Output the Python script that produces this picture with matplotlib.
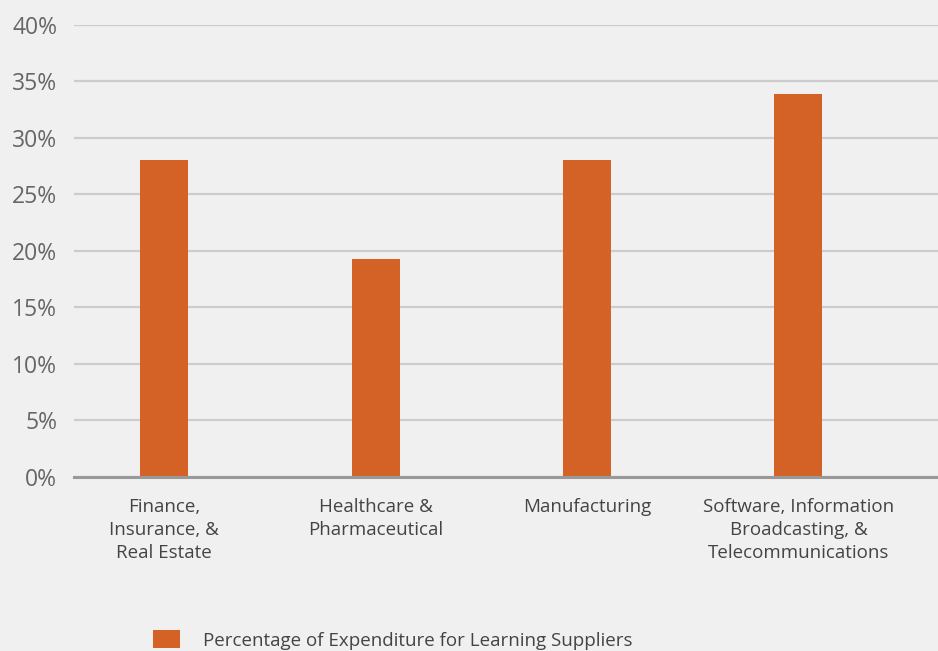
import numpy as np
import matplotlib.pyplot as plt

categories = ["Finance,\nInsurance, &\nReal Estate",
              "Healthcare &\nPharmaceutical",
              "Manufacturing",
              "Software, Information\nBroadcasting, &\nTelecommunications"]
values = [28.0, 19.3, 28.0, 33.9]
series_name = "Percentage of Expenditure for Learning Suppliers"
y_ticks = [0, 5, 10, 15, 20, 25, 30, 35, 40]

plt.rcParams['font.family'] = ['Open Sans', 'DejaVu Sans']

bg = "#f0f0f0"
bar_color = "#d46226"

fig = plt.figure(figsize=(9.38, 6.51), dpi=100, facecolor=bg)
ax = fig.add_axes([74 / 938, 174 / 651, 1 - 74 / 938, (477 - 24.5) / 651])
ax.set_facecolor(bg)

x = np.arange(len(categories))
ax.bar(x, values, width=0.227, color=bar_color, label=series_name, zorder=3)

ax.set_ylim(0, 40)
ax.set_xlim(-0.427, 3.66)
ax.set_yticks(y_ticks)
ax.set_yticklabels([f"{t}%" for t in y_ticks])
ax.set_xticks(x)
ax.set_xticklabels(categories, linespacing=1.36)

ax.grid(axis="y", color="#cccccc", linewidth=1.6, zorder=0)
ax.tick_params(axis="y", length=0, pad=12, labelsize=16.5, labelcolor="#666666")
ax.tick_params(axis="x", length=0, pad=15, labelsize=13.5, labelcolor="#444444")
for s in ["top", "right", "left"]:
    ax.spines[s].set_visible(False)
ax.spines["bottom"].set_color("#999999")
ax.spines["bottom"].set_linewidth(2.2)
ax.spines["bottom"].set_zorder(4)

fig.legend(loc="center left", bbox_to_anchor=(136 / 938, 11 / 651),
           frameon=False, fontsize=13.5, labelcolor="#444444",
           handlelength=1.45, handleheight=1.05, handletextpad=1.2)

fig.savefig("out.png", dpi=100, facecolor=bg)
